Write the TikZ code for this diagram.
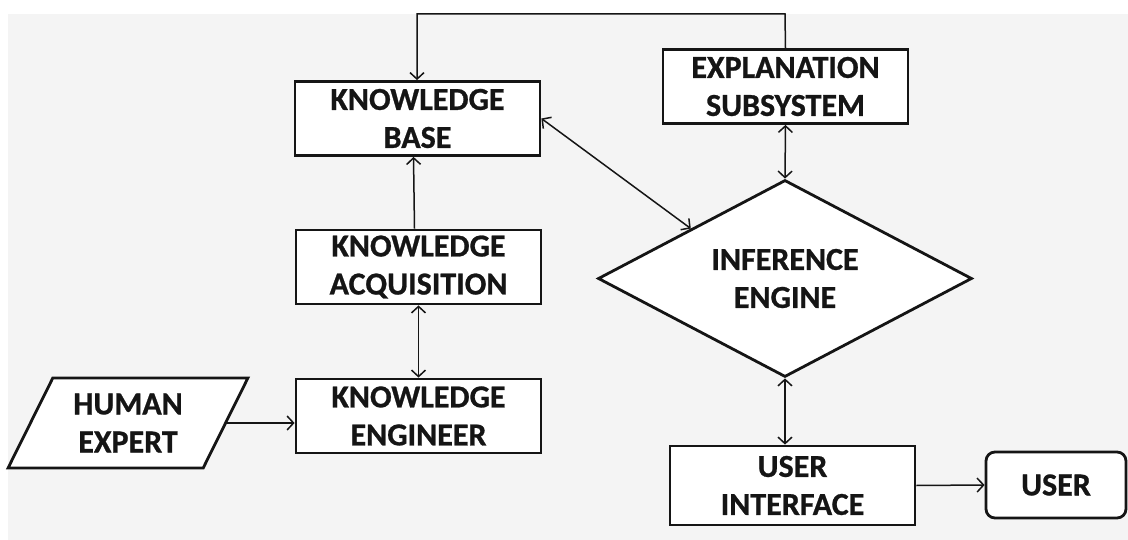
\documentclass[tikz,border=0pt]{standalone}
\usepackage{fontspec}
\setmainfont{Carlito}[BoldFeatures={FakeBold=0.8}]
\usetikzlibrary{arrows.meta,shapes.geometric}
\definecolor{bggrey}{HTML}{F4F4F4}
\definecolor{ink}{HTML}{151515}
\tikzset{
  x=1pt, y=-1pt,
  >={Straight Barb[length=6.5pt,width=14pt]},
  lbl/.style={font=\fontsize{32}{38}\selectfont\bfseries, text=ink, align=center},
  boxnode/.style={lbl, draw=ink, line width=2.8pt, fill=white, inner sep=0pt,
    minimum width=245pt, minimum height=74pt},
  conn/.style={draw=ink, line width=1.5pt},
}
\begin{document}
\begin{tikzpicture}
\useasboundingbox (0,0) rectangle (1128,540);
\fill[white] (0,0) rectangle (1128,540);
\fill[bggrey] (8,14) rectangle (1128,540);

\node[boxnode] (kb) at (417.5,118.5) {KNOWLEDGE\\BASE};
\node[boxnode] (exp) at (785.5,86.5) {EXPLANATION\\SUBSYSTEM};
\node[boxnode] (ka) at (418.5,267) {KNOWLEDGE\\ACQUISITION};
\node[boxnode] (ke) at (418.5,416) {KNOWLEDGE\\ENGINEER};
\node[boxnode, minimum height=79pt] (ui) at (792.5,485.5) {USER\\INTERFACE};
\node[boxnode, minimum width=140pt, minimum height=66pt, rounded corners=9pt] (user) at (1056,485) {USER};
\node[lbl, diamond, draw=ink, line width=2.8pt, fill=white, inner sep=0pt, aspect=1.9,
  minimum width=374pt, minimum height=197pt] (ie) at (785,278.5) {INFERENCE\\ENGINE};
\node[lbl, trapezium, trapezium left angle=61, trapezium right angle=119, trapezium stretches=true,
  draw=ink, line width=2.8pt, fill=white, inner sep=0pt,
  minimum width=240pt, minimum height=90pt] (he) at (128,423) {HUMAN\\EXPERT};

\coordinate (topr) at (785,14);
\coordinate (topl) at (417,14);

\draw[conn, ->] (he.east) -- (ke.west |- he.east);
\draw[conn, ->] ([xshift=-4pt]ka.north) -- ([xshift=-4pt]kb.south);
\draw[conn, <->] (ka.south) -- (ke.north);
\draw[conn, <->] (kb.east) -- (ie.north west);
\draw[conn, <->] (exp.south) -- (ie.north);
\draw[conn, <->] (ie.south) -- (ui.north -| ie.south);
\draw[conn, ->] (ui.east) -- (user.west);
\draw[conn, ->] (exp.north) -- (topr) -- (topl) -- (kb.north -| topl);
\end{tikzpicture}
\end{document}
